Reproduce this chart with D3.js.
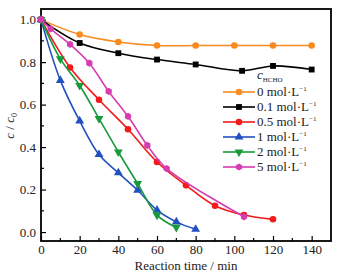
<!DOCTYPE html>
<html>
<head>
<meta charset="UTF-8">
<script src="https://d3js.org/d3.v7.min.js"></script>
<style>
  body { margin: 0; padding: 0; background: #fff; }
</style>
</head>
<body>
<script>
// données
var labels = ["0 mol\u00b7L", "0.1 mol\u00b7L", "0.5 mol\u00b7L", "1 mol\u00b7L", "2 mol\u00b7L", "5 mol\u00b7L"];
var colors = ["#f88a1f", "#000000", "#f21a1a", "#2150c0", "#179a3c", "#d63db2"];
var markers = ["circle", "square", "circle", "triUp", "triDown", "hexagon"];

var t0 = [0, 20, 40, 60, 80, 100, 120, 140];
var c0 = [1.0, 0.93, 0.895, 0.878, 0.878, 0.878, 0.878, 0.878];
var t1 = [0, 20, 40, 60, 80, 104, 120, 140];
var c1 = [1.0, 0.89, 0.842, 0.812, 0.789, 0.759, 0.782, 0.765];
var t2 = [0, 15, 30, 45, 60, 75, 90, 105, 120];
var c2 = [1.0, 0.775, 0.623, 0.484, 0.33, 0.22, 0.124, 0.08, 0.06];
var t3 = [0, 10, 20, 30, 40, 50, 60, 70, 80];
var c3 = [1.0, 0.714, 0.523, 0.365, 0.279, 0.197, 0.103, 0.048, 0.013];
var t4 = [0, 10, 20, 30, 40, 50, 60, 70];
var c4 = [1.0, 0.815, 0.69, 0.534, 0.377, 0.228, 0.08, 0.022];
var t5 = [0, 5, 15, 25, 35, 45, 55, 65, 105];
var c5 = [1.0, 0.956, 0.884, 0.795, 0.662, 0.545, 0.408, 0.299, 0.072];

var xTicks = [0, 20, 40, 60, 80, 100, 120, 140];
var yTicks = [0.0, 0.2, 0.4, 0.6, 0.8, 1.0];

var times = [t0, t1, t2, t3, t4, t5];
var values = [c0, c1, c2, c3, c4, c5];

var width = 341, height = 277;
var margin = {left: 41, right: 10, top: 9, bottom: 36};
var serif = "Liberation Serif";

var svg = d3.select("body").append("svg")
    .attr("width", width)
    .attr("height", height);

var x = d3.scaleLinear().domain([0, 150]).range([margin.left, width - margin.right]);
var y = d3.scaleLinear().domain([-0.042, 1.05]).range([height - margin.bottom, margin.top]);

// axes avec graduations vers l'intérieur
var xAxis = d3.axisBottom(x).tickValues(xTicks).tickSizeInner(-5).tickSizeOuter(0).tickPadding(4)
    .tickFormat(d3.format("d"));
var yAxis = d3.axisLeft(y).tickValues(yTicks).tickSizeInner(-5).tickSizeOuter(0).tickPadding(5)
    .tickFormat(d3.format(".1f"));

var gx = svg.append("g").attr("transform", "translate(0," + (height - margin.bottom) + ")").call(xAxis);
var gy = svg.append("g").attr("transform", "translate(" + margin.left + ",0)").call(yAxis);

// petites graduations
var xMinor = d3.range(10, 150, 20);
var yMinor = d3.range(0.1, 1.0, 0.2);
gx.selectAll(".minor").data(xMinor).join("line").attr("class", "minor")
    .attr("x1", function(d) { return x(d); }).attr("x2", function(d) { return x(d); })
    .attr("y1", 0).attr("y2", -3).attr("stroke", "#000").attr("stroke-width", 1.2);
gy.selectAll(".minor").data(yMinor).join("line").attr("class", "minor")
    .attr("y1", function(d) { return y(d); }).attr("y2", function(d) { return y(d); })
    .attr("x1", 0).attr("x2", 3).attr("stroke", "#000").attr("stroke-width", 1.2);

[gx, gy].forEach(function(g) {
    g.attr("font-family", serif).attr("font-size", 13);
    g.select(".domain").remove();
    g.selectAll(".tick line").attr("stroke-width", 1.2);
    g.selectAll("text").attr("font-family", serif).attr("font-size", 13).attr("fill", "#222");
});

// cadre
svg.append("rect")
    .attr("x", x(0)).attr("y", margin.top)
    .attr("width", x(150) - x(0)).attr("height", height - margin.bottom - margin.top)
    .attr("fill", "none").attr("stroke", "#000").attr("stroke-width", 1.8);

function markerPath(type, size) {
    if (type === "circle") return d3.symbol(d3.symbolCircle, size)();
    if (type === "square") return d3.symbol(d3.symbolSquare, size)();
    if (type === "triUp") return d3.symbol(d3.symbolTriangle, size)();
    if (type === "triDown") return d3.symbol(d3.symbolTriangle, size)();
    var r = Math.sqrt(size / 2.6), pts = [];
    for (var i = 0; i < 6; i++) {
        var a = Math.PI / 6 + i * Math.PI / 3;
        pts.push([r * Math.cos(a), r * Math.sin(a)]);
    }
    return "M" + pts.join("L") + "Z";
}

var line = d3.line()
    .x(function(d) { return x(d[0]); })
    .y(function(d) { return y(d[1]); })
    .curve(d3.curveCatmullRom.alpha(0.5));

var plot = svg.append("g");
for (var s = 0; s < 6; s++) {
    var pts = times[s].map(function(t, i) { return [t, values[s][i]]; });
    plot.append("path").datum(pts)
        .attr("d", line)
        .attr("fill", "none")
        .attr("stroke", colors[s])
        .attr("stroke-width", 1.6);
    plot.selectAll(".m" + s).data(pts).join("path")
        .attr("class", "m" + s)
        .attr("d", markerPath(markers[s], 34))
        .attr("transform", function(d) {
            var rot = markers[s] === "triDown" ? " rotate(180)" : "";
            return "translate(" + x(d[0]) + "," + y(d[1]) + ")" + rot;
        })
        .attr("fill", colors[s]);
}

// légende
var lg = svg.append("g").attr("transform", "translate(223,0)")
    .attr("font-family", serif).attr("font-size", 13);
var title = lg.append("text").attr("x", 34).attr("y", 79).attr("font-family", serif).attr("fill", "#222");
title.append("tspan").attr("font-style", "italic").text("c");
title.append("tspan").attr("dy", 3).attr("font-size", 7).text("HCHO");

labels.forEach(function(lab, i) {
    var yy = 92 + i * 15;
    lg.append("line").attr("x1", 0).attr("x2", 32).attr("y1", yy).attr("y2", yy)
        .attr("stroke", colors[i]).attr("stroke-width", 1.6);
    lg.append("path").attr("d", markerPath(markers[i], 34))
        .attr("transform", "translate(16," + yy + ")" + (markers[i] === "triDown" ? " rotate(180)" : ""))
        .attr("fill", colors[i]);
    var tx = lg.append("text").attr("x", 34).attr("y", yy + 4).attr("font-family", serif).attr("fill", "#222");
    tx.append("tspan").text(lab);
    tx.append("tspan").attr("dy", -5).attr("font-size", 7).text("\u22121");
});

// titres des axes
svg.append("text")
    .attr("x", (x(0) + x(150)) / 2).attr("y", 270)
    .attr("text-anchor", "middle").attr("font-family", serif).attr("font-size", 13).attr("fill", "#222")
    .text("Reaction time / min");

var yl = svg.append("text")
    .attr("transform", "translate(14," + (y(0.5)) + ") rotate(-90)")
    .attr("text-anchor", "middle").attr("font-family", serif).attr("font-size", 13).attr("fill", "#222");
yl.append("tspan").attr("font-style", "italic").text("c");
yl.append("tspan").text(" / ");
yl.append("tspan").attr("font-style", "italic").text("c");
yl.append("tspan").attr("dy", 3).attr("font-size", 8).text("0");
</script>
</body>
</html>
